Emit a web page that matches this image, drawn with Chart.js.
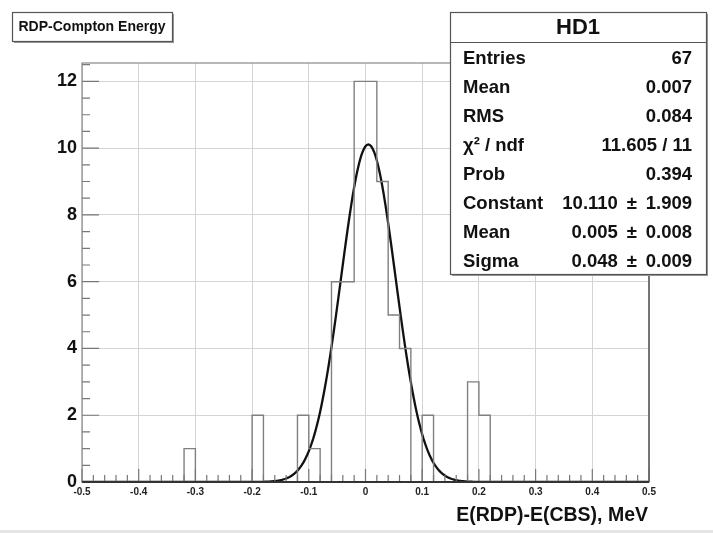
<!DOCTYPE html>
<html>
<head>
<meta charset="utf-8">
<script src="https://cdn.jsdelivr.net/npm/chart.js@4"></script>
<style>
  html, body { margin: 0; padding: 0; background: #fff; }
  #wrap { width: 713px; height: 533px; position: relative; }
</style>
</head>
<body>
<div id="wrap"><canvas id="hist"></canvas></div>
<script>
// histogram binning
const xMin = -0.5;
const xMax = 0.5;
const binWidth = 0.02;
const yMax = 12.55;

// filled bins (low edge, entries); every other bin is empty
const binLowEdges = [-0.32, -0.20, -0.12, -0.10, -0.06, -0.04, -0.02, 0.00, 0.02, 0.04, 0.06, 0.10, 0.18, 0.20];
const binCounts = [1, 2, 2, 1, 6, 6, 12, 12, 9, 5, 4, 2, 3, 2];

// gaussian fit result
const fitConstant = 10.110;
const fitMean = 0.005;
const fitSigma = 0.048;

const titleText = 'RDP-Compton Energy';
const statsTitle = 'HD1';
const statLabels = ['Entries', 'Mean', 'RMS', 'χ² / ndf', 'Prob', 'Constant', 'Mean', 'Sigma'];
const statValues = ['67', '0.007', '0.084', '11.605 / 11', '0.394', '10.110 \u2009±\u2009 1.909', '0.005 \u2009±\u2009 0.008', '0.048 \u2009±\u2009 0.009'];
const xTitle = 'E(RDP)-E(CBS), MeV';

const FONT = '"Liberation Sans", Arial, Helvetica, sans-serif';

// full bin contents
var nBins = Math.round((xMax - xMin) / binWidth);
var contents = new Array(nBins).fill(0);
binLowEdges.forEach((e, i) => {
    contents[Math.round((e - xMin) / binWidth)] = binCounts[i];
});
var histPoints = contents.map((c, i) => ({ x: xMin + i * binWidth, y: c }));
histPoints.push({ x: xMax, y: 0 });

// fit curve sampled across the axis range
var fitPoints = [];
for (let i = 0; i <= 400; i++) {
    let x = xMin + (xMax - xMin) * i / 400;
    let d = (x - fitMean) / fitSigma;
    fitPoints.push({ x: x, y: fitConstant * Math.exp(-0.5 * d * d) });
}

function boxWithShadow(ctx, x, y, w, h) {
    ctx.fillStyle = '#9a9a9a';
    ctx.fillRect(x + 2, y + 2, w, h);
    ctx.fillStyle = '#fff';
    ctx.fillRect(x, y, w, h);
    ctx.strokeStyle = '#555';
    ctx.lineWidth = 1.2;
    ctx.strokeRect(x + 0.5, y + 0.5, w, h);
}

const rootStyle = {
    id: 'rootStyle',
    afterDatasetsDraw(chart) {
        const ctx = chart.ctx;
        const a = chart.chartArea;
        const xs = chart.scales.x, ys = chart.scales.y;
        ctx.save();
        // inward ticks
        ctx.strokeStyle = '#777';
        ctx.lineWidth = 1.2;
        ctx.beginPath();
        for (let k = 0; k <= 50; k++) {
            let v = xMin + k * 0.02;
            let px = xs.getPixelForValue(v);
            let len = (k % 5 === 0) ? 13 : 7;
            ctx.moveTo(px, a.bottom);
            ctx.lineTo(px, a.bottom - len);
        }
        for (let k = 0; k <= 25; k++) {
            let v = k * 0.5;
            if (v > yMax) break;
            let py = ys.getPixelForValue(v);
            let len = (k % 4 === 0) ? 17 : 8;
            ctx.moveTo(a.left, py);
            ctx.lineTo(a.left + len, py);
        }
        ctx.stroke();
        // frame
        ctx.strokeStyle = '#888';
        ctx.lineWidth = 1.2;
        ctx.strokeRect(a.left, a.top, a.right - a.left, a.bottom - a.top);
        ctx.strokeStyle = '#666';
        ctx.lineWidth = 1.6;
        ctx.beginPath();
        ctx.moveTo(a.right, a.top);
        ctx.lineTo(a.right, a.bottom);
        ctx.stroke();
        ctx.strokeStyle = '#333';
        ctx.lineWidth = 2.2;
        ctx.beginPath();
        ctx.moveTo(a.left, a.bottom);
        ctx.lineTo(a.right, a.bottom);
        ctx.stroke();
        ctx.restore();
    },
    afterDraw(chart) {
        const ctx = chart.ctx;
        const a = chart.chartArea;
        ctx.save();
        // title box
        boxWithShadow(ctx, 12, 12, 160, 29);
        ctx.fillStyle = '#111';
        ctx.font = 'bold 14px ' + FONT;
        ctx.textAlign = 'center';
        ctx.textBaseline = 'middle';
        ctx.fillText(titleText, 92, 27);

        // stats box
        boxWithShadow(ctx, 450, 12, 256, 262);
        ctx.strokeStyle = '#555';
        ctx.lineWidth = 1.2;
        ctx.beginPath();
        ctx.moveTo(450, 42.5);
        ctx.lineTo(706, 42.5);
        ctx.stroke();
        ctx.fillStyle = '#111';
        ctx.font = 'bold 22px ' + FONT;
        ctx.fillText(statsTitle, 578, 28);
        ctx.font = 'bold 18.5px ' + FONT;
        statLabels.forEach((lab, i) => {
            let y = 59 + i * 29;
            ctx.textAlign = 'left';
            ctx.fillText(lab, 463, y);
            ctx.textAlign = 'right';
            ctx.fillText(statValues[i], 692, y);
        });

        // x axis title
        ctx.font = 'bold 19.5px ' + FONT;
        ctx.textAlign = 'right';
        ctx.fillText(xTitle, a.right - 1, 516);

        // bottom edge line
        ctx.fillStyle = '#e4e4e4';
        ctx.fillRect(0, 530, 713, 3);
        ctx.restore();
    }
};

var config = {
    type: 'line',
    data: {
        datasets: [{
            label: 'HD1',
            data: histPoints,
            stepped: true,
            borderColor: '#808080',
            borderWidth: 1.4,
            pointRadius: 0,
            fill: false
        }, {
            label: 'gaus',
            data: fitPoints,
            borderColor: '#111',
            borderWidth: 2.3,
            pointRadius: 0,
            tension: 0,
            fill: false
        }]
    },
    options: {
        responsive: true,
        maintainAspectRatio: false,
        animation: false,
        layout: { padding: { top: 63, right: 64, left: 0, bottom: 0 } },
        plugins: { legend: { display: false }, tooltip: { enabled: false } },
        scales: {
            x: {
                type: 'linear',
                min: xMin,
                max: xMax,
                afterFit: (s) => { s.height = 51; },
                grid: { color: '#d4d4d4', lineWidth: 1, drawTicks: false },
                border: { display: false },
                ticks: {
                    stepSize: 0.1,
                    includeBounds: false,
                    maxRotation: 0,
                    autoSkip: false,
                    padding: 4,
                    color: '#222',
                    font: { family: FONT, size: 10, weight: 'bold' },
                    callback: (v) => String(Number(v.toFixed(1)))
                }
            },
            y: {
                type: 'linear',
                min: 0,
                max: yMax,
                afterFit: (s) => { s.width = 82; },
                grid: { color: '#d4d4d4', lineWidth: 1, drawTicks: false },
                border: { display: false },
                ticks: {
                    stepSize: 2,
                    includeBounds: false,
                    padding: 5,
                    color: '#111',
                    font: { family: FONT, size: 18, weight: 'bold' }
                }
            }
        }
    },
    plugins: [rootStyle]
};

var myChart = new Chart(document.getElementById('hist'), config);
</script>
</body>
</html>
